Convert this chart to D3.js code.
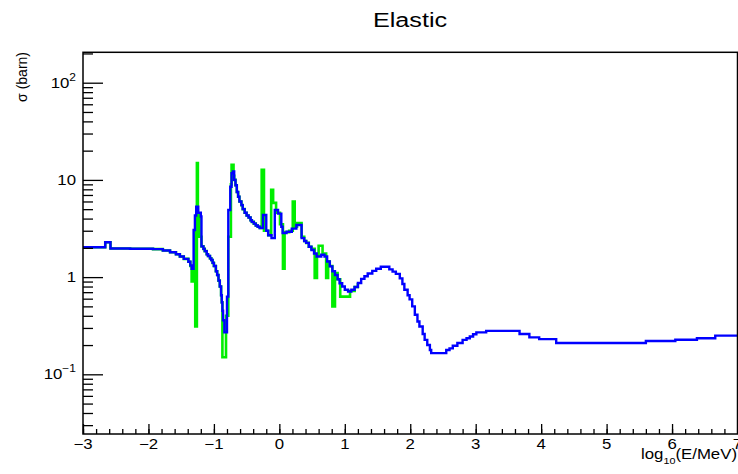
<!DOCTYPE html>
<html>
<head>
<meta charset="utf-8">
<script src="https://cdn.jsdelivr.net/npm/d3@7"></script>
<style>
  body { margin: 0; background: #fff; }
  svg { display: block; }
  text { font-family: "Liberation Sans", Arial, Helvetica, sans-serif; fill: #000; }
</style>
</head>
<body>
<svg id="chart" width="738" height="474"></svg>
<script>
// Evaluated elastic cross section, step histogram (blue)
const blueLogE = [-3.00, -2.67, -2.66, -2.58, -2.28, -1.93, -1.78, -1.67, -1.58, -1.52, -1.46, -1.39, -1.36, -1.34,
  -1.31, -1.29, -1.27, -1.24, -1.20, -1.19, -1.16, -1.14, -1.11, -1.09, -1.06, -1.04, -1.02, -1.00, -0.97, -0.95,
  -0.93, -0.91, -0.89, -0.88, -0.87, -0.86, -0.84, -0.80, -0.78, -0.75, -0.73, -0.71, -0.69, -0.67, -0.65,
  -0.63, -0.61, -0.58, -0.56, -0.53, -0.50, -0.47, -0.44, -0.42, -0.39, -0.36, -0.33, -0.30, -0.25, -0.20,
  -0.17, -0.12, -0.07, -0.02, 0.03, 0.05, 0.11, 0.19, 0.26, 0.34, 0.38, 0.41, 0.45, 0.49, 0.53, 0.57, 0.64,
  0.69, 0.73, 0.77, 0.81, 0.85, 0.89, 0.92, 0.96, 1.00, 1.05, 1.10, 1.15, 1.20, 1.25, 1.30, 1.35, 1.42, 1.48,
  1.55, 1.62, 1.68, 1.73, 1.78, 1.84, 1.88, 1.91, 1.96, 1.99, 2.03, 2.07, 2.11, 2.14, 2.19, 2.22, 2.26, 2.30,
  2.32, 2.49, 2.55, 2.60, 2.65, 2.72, 2.80, 2.86, 2.91, 2.96, 3.01, 3.16, 3.56, 3.67, 3.82, 3.97, 4.23, 5.60,
  6.05, 6.38, 6.66, 7.00];
const blueSigma = [2.03, 2.03, 2.28, 1.97, 1.96, 1.94, 1.88, 1.80, 1.72, 1.63, 1.54, 1.44, 1.32, 1.22,
  3.05, 4.3, 5.3, 4.6, 4.2, 2.07, 1.95, 1.85, 1.72, 1.65, 1.56, 1.50, 1.40, 1.30, 1.15, 1.05,
  0.92, 0.80, 0.65, 0.55, 0.45, 0.36, 0.27, 0.63, 4.9, 8.5, 11.7, 12.2, 10.0, 8.8, 7.5,
  6.7, 6.0, 5.5, 5.0, 4.6, 4.3, 4.1, 3.85, 3.7, 3.55, 3.4, 3.3, 3.2, 4.35, 3.0,
  2.7, 2.52, 4.9, 4.5, 3.3, 2.84, 2.93, 3.15, 3.44, 2.52, 2.35, 2.25, 2.05, 1.9, 1.75, 1.63, 1.70,
  1.63, 1.45, 1.29, 1.15, 1.05, 0.95, 0.865, 0.80, 0.74, 0.71, 0.74, 0.79, 0.87, 0.96, 1.02, 1.09, 1.16, 1.22,
  1.28, 1.28, 1.20, 1.14, 1.08, 0.97, 0.85, 0.74, 0.65, 0.59, 0.50, 0.41, 0.35, 0.31, 0.26, 0.226, 0.20, 0.178,
  0.165, 0.165, 0.178, 0.185, 0.197, 0.21, 0.226, 0.235, 0.245, 0.258, 0.27, 0.28, 0.28, 0.26, 0.24, 0.23, 0.21, 0.22,
  0.227, 0.235, 0.25, 0.25];

// Pointwise resonance data, step histogram (green)
const greenLogE = [-3.00, -2.67, -2.66, -2.58, -2.28, -1.93, -1.78, -1.67, -1.58, -1.52, -1.46, -1.39, -1.36,
  -1.34, -1.30, -1.285, -1.26, -1.245, -1.22, -1.19, -1.16, -1.14, -1.11, -1.09, -1.06, -1.04, -1.02, -1.00,
  -0.97, -0.95, -0.93, -0.91, -0.89, -0.88, -0.87, -0.815, -0.78, -0.74, -0.73, -0.70, -0.69, -0.67, -0.65,
  -0.63, -0.61, -0.58, -0.56, -0.53, -0.50, -0.47, -0.44, -0.42, -0.39, -0.36, -0.33, -0.30, -0.27, -0.235,
  -0.20, -0.17, -0.125, -0.095, -0.05, 0.01, 0.055, 0.08, 0.15, 0.205, 0.235, 0.27, 0.34, 0.38, 0.41, 0.45,
  0.49, 0.54, 0.575, 0.60, 0.66, 0.715, 0.745, 0.77, 0.81, 0.85, 0.89, 0.93, 1.08, 1.15, 1.20];
const greenSigma = [2.03, 2.03, 2.28, 1.97, 1.96, 1.94, 1.88, 1.80, 1.72, 1.63, 1.54, 1.44, 1.30,
  0.90, 3.0, 0.31, 14.9, 4.5, 2.6, 2.07, 1.95, 1.85, 1.72, 1.65, 1.56, 1.50, 1.40, 1.30,
  1.15, 1.05, 0.92, 0.80, 0.65, 0.55, 0.15, 0.40, 2.6, 9.0, 14.3, 11.0, 10.0, 8.8, 7.5,
  6.7, 6.0, 5.5, 5.0, 4.6, 4.3, 4.1, 3.85, 3.7, 3.55, 3.4, 3.3, 3.2, 12.7, 3.0,
  3.0, 2.7, 7.9, 5.8, 4.6, 3.5, 1.22, 2.9, 3.0, 6.0, 3.3, 3.6, 2.6, 2.35, 2.25, 2.05,
  1.95, 0.98, 1.7, 2.1, 1.75, 0.98, 1.45, 1.3, 0.50, 1.1, 0.95, 0.63, 0.72, 0.79, 0.87];

// Axis ticks and labels
const xTickValues = [-3, -2, -1, 0, 1, 2, 3, 4, 5, 6, 7];
const xTickLabels = ["\u22123", "\u22122", "\u22121", "0", "1", "2", "3", "4", "5", "6", "7"];
const yTickValues = [0.1, 1, 10, 100];
const yTickBase = ["10", "1", "10", "10"];
const yTickExp = ["\u22121", "", "", "2"];

const svg = d3.select("#chart");
const frame = { left: 83, right: 737.5, top: 52.3, bottom: 434 };
const textStretch = 1.2;

const x = d3.scaleLinear().domain([-3, 7]).range([frame.left, frame.right]);
const y = d3.scaleLog().domain([0.02432, 205.5]).range([frame.bottom, frame.top]);

svg.append("defs").append("clipPath").attr("id", "plotClip")
  .append("rect")
  .attr("x", frame.left).attr("y", frame.top)
  .attr("width", frame.right - frame.left).attr("height", frame.bottom - frame.top);

// Stepped histograms
const stepLine = d3.line()
  .x(d => x(d[0]))
  .y(d => y(d[1]))
  .curve(d3.curveStepAfter);

const plot = svg.append("g").attr("clip-path", "url(#plotClip)");
plot.append("path")
  .datum(d3.zip(greenLogE, greenSigma))
  .attr("d", stepLine)
  .attr("fill", "none")
  .attr("stroke", "#00ee00")
  .attr("stroke-width", 2.6);
plot.append("path")
  .datum(d3.zip(blueLogE, blueSigma))
  .attr("d", stepLine)
  .attr("fill", "none")
  .attr("stroke", "#0000ff")
  .attr("stroke-width", 2.4)
  .attr("stroke-linejoin", "miter");

// Frame
svg.append("rect")
  .attr("x", frame.left).attr("y", frame.top)
  .attr("width", frame.right - frame.left).attr("height", frame.bottom - frame.top)
  .attr("fill", "none").attr("stroke", "#000").attr("stroke-width", 1.5);

// X axis ticks (drawn inward)
const xMinor = d3.range(-3, 7.001, 0.2).map(v => Math.round(v * 10) / 10);
const xAxisMinor = d3.axisBottom(x).tickValues(xMinor).tickSize(-5).tickFormat("");
const xAxisMajor = d3.axisBottom(x).tickValues(xTickValues).tickSize(-10).tickFormat("");
[xAxisMinor, xAxisMajor].forEach(ax => {
  const g = svg.append("g").attr("transform", `translate(0,${frame.bottom})`).call(ax);
  g.select(".domain").remove();
  g.selectAll("line").attr("stroke", "#000").attr("stroke-width", 1.3);
});

// Y axis ticks (drawn inward)
const yMinor = [];
for (let d = -2; d <= 2; d++) {
  for (let k = 2; k <= 9; k++) {
    const v = k * Math.pow(10, d);
    if (v > y.domain()[0] && v < y.domain()[1]) yMinor.push(v);
  }
}
const yAxisMinor = d3.axisLeft(y).tickValues(yMinor).tickSize(-10).tickFormat("");
const yAxisMajor = d3.axisLeft(y).tickValues(yTickValues).tickSize(-20).tickFormat("");
[yAxisMinor, yAxisMajor].forEach(ax => {
  const g = svg.append("g").attr("transform", `translate(${frame.left},0)`).call(ax);
  g.select(".domain").remove();
  g.selectAll("line").attr("stroke", "#000").attr("stroke-width", 1.3);
});

// Stretched text helper
function label(px, py, anchor, size) {
  return svg.append("g")
    .attr("transform", `translate(${px},${py}) scale(${textStretch},1)`)
    .append("text")
    .attr("text-anchor", anchor)
    .attr("font-size", size);
}

// X tick labels
xTickValues.forEach((v, i) => {
  label(x(v), 449, "middle", 14).text(xTickLabels[i]);
});

// Y tick labels
yTickValues.forEach((v, i) => {
  const t = label(76, y(v) + 5, "end", 14);
  t.append("tspan").text(yTickBase[i]);
  if (yTickExp[i]) {
    t.append("tspan").attr("font-size", 10).attr("dy", -7).text(yTickExp[i]);
  }
});

// Axis titles
const xt = label(737, 459, "end", 14);
xt.append("tspan").text("log");
xt.append("tspan").attr("font-size", 9).attr("dy", 5).text("10");
xt.append("tspan").attr("dy", -5).text("(E/MeV)");

svg.append("text")
  .attr("transform", "translate(27,52) rotate(-90)")
  .attr("text-anchor", "end")
  .attr("font-size", 14)
  .text("\u03c3 (barn)");

// Title
label(410, 27, "middle", 21).text("Elastic");
</script>
</body>
</html>
